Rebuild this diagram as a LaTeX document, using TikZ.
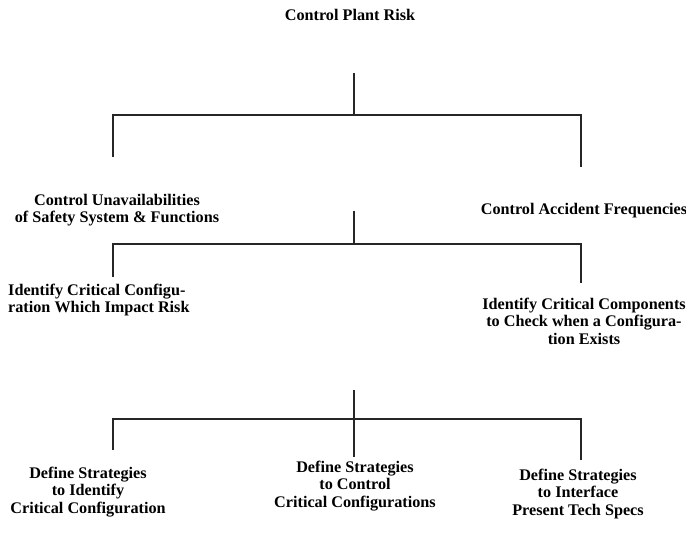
\documentclass[tikz,border=0pt]{standalone}
\usepackage{fontspec}
\setmainfont{Liberation Serif}
\begin{document}
\begin{tikzpicture}[x=1pt,y=-1pt,
  lbl/.style={inner sep=0pt,font=\fontsize{16.2}{17.5}\selectfont\bfseries,align=center},
  lbll/.style={inner sep=0pt,font=\fontsize{16.2}{17.5}\selectfont\bfseries,align=left,anchor=west},
  conn/.style={line width=1.4pt,black!85}]
\useasboundingbox (0,0) rectangle (686,536);
% level 0
\node[lbl] (root) at (350,15) {Control Plant Risk};
% level 1
\node[lbl] (a1) at (117,210) {Control Unavailabilities\\of Safety System \& Functions};
\node[lbl] (a2) at (584,211) {Control Accident Frequencies};
% level 2
\node[lbll] (b1) at (8,300) {Identify Critical Configu-\\ration Which Impact Risk};
\node[lbl] (b2) at (584,321) {Identify Critical Components\\to Check when a Configura-\\tion Exists};
% level 3
\node[lbl] (c1) at (88,492) {Define Strategies\\to Identify\\Critical Configuration};
\node[lbl] (c2) at (355,486) {Define Strategies\\to Control\\Critical Configurations};
\node[lbl] (c3) at (578,494) {Define Strategies\\to Interface\\Present Tech Specs};
% connectors level 0 -> 1
\coordinate (t0) at (354,73);
\coordinate (j0) at (354,115);
\coordinate (l0) at (113,115);
\coordinate (r0) at (581,115);
\coordinate (l0e) at (113,157);
\coordinate (r0e) at (581,167);
\draw[conn] (t0) -- (j0);
\draw[conn] (l0e) -- (l0) -- (r0) -- (r0e);
% connectors level 1 -> 2
\coordinate (t1) at (354,211);
\coordinate (j1) at (354,244);
\coordinate (l1) at (113,244);
\coordinate (r1) at (581,244);
\coordinate (l1e) at (113,277);
\coordinate (r1e) at (581,283);
\draw[conn] (t1) -- (j1);
\draw[conn] (l1e) -- (l1) -- (r1) -- (r1e);
% connectors level 2 -> 3
\coordinate (t2) at (354,390);
\coordinate (m2e) at (354,457);
\coordinate (l2) at (113,419);
\coordinate (r2) at (581,419);
\coordinate (l2e) at (113,450);
\coordinate (r2e) at (581,460);
\draw[conn] (t2) -- (m2e);
\draw[conn] (l2e) -- (l2) -- (r2) -- (r2e);
\end{tikzpicture}
\end{document}
